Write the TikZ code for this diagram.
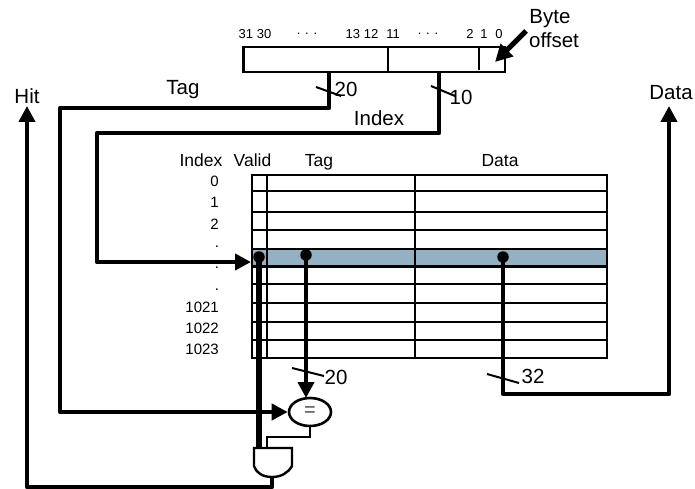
\documentclass[tikz,border=0pt]{standalone}
\usepackage{fontspec}
\setmainfont{Liberation Sans}
\usetikzlibrary{arrows.meta,shapes.geometric}
\definecolor{rowblue}{HTML}{93B1C3}
\tikzset{
  thick line/.style={line width=4.6pt,line join=round},
  thick arrow/.style={thick line,-{Triangle[length=16pt,width=16pt]}},
  frame/.style={line width=2.4pt},
  thin frame/.style={line width=2.2pt},
  tick/.style={line width=2pt},
  big/.style={font=\fontsize{20.5}{22}\selectfont,inner sep=0pt,anchor=base},
  mid/.style={font=\fontsize{17.5}{19}\selectfont,inner sep=0pt,anchor=base},
  num/.style={font=\fontsize{15}{17}\selectfont,inner sep=0pt},
  bit/.style={font=\fontsize{13}{15}\selectfont,inner sep=0pt},
  dot/.style={circle,fill=black,inner sep=0pt,minimum size=11.5pt},
}
\begin{document}
\begin{tikzpicture}[x=1pt,y=-1pt]
\useasboundingbox[fill=white] (0,0) rectangle (695,489);
% address register
\coordinate (regNW) at (243.5,47);
\coordinate (regSE) at (505,72);
\draw[frame] (regNW) rectangle (regSE);
\draw[frame] (388,47) -- (388,72);
\draw[frame] (479,47) -- (479,70);
\foreach \t/\x in {31 30/255,13 12/362,11/393,2/470,1/484,0/499}
  \node[bit] at (\x,34) {\t};
\foreach \x in {307,428}
  \node[bit] at (\x,34) {. . .};
\node[big] at (550,24) {Byte};
\node[big] at (554,48) {offset};
\coordinate (boS) at (526,31);
\coordinate (boE) at (495,62);
\draw[line width=5pt,-{Triangle[length=17pt,width=17pt]}] (boS) -- (boE);
% table
\fill[rowblue] (252,249) rectangle (607,266);
\foreach \y in {191,212,230,249,284,303,322,340}
  \draw[thin frame] (252,\y) -- (607,\y);
\draw[line width=3pt] (252,266.5) -- (607,266.5);
\draw[frame] (252,175) rectangle (607,358);
\draw[thin frame] (267,175) -- (267,358);
\draw[thin frame] (415,175) -- (415,358);
\node[mid] at (201,166) {Index};
\node[mid] at (252.5,166) {Valid};
\node[mid] at (319,166) {Tag};
\node[mid] at (500,166) {Data};
\foreach \t/\y in {0/181,1/202,2/224,1021/307,1022/328,1023/349}
  \node[num,anchor=east] at (219,\y) {\t};
\foreach \y in {247,268,290}
  \node[num] at (217,\y) {.};
% dots
\node[dot] (vdot) at (259,257) {};
\node[dot] (tdot) at (306,255) {};
\node[dot] (ddot) at (503,257) {};
% comparator and gate
\node[ellipse,draw,line width=2.6pt,fill=white,minimum width=42pt,minimum height=28pt,inner sep=0pt] (eq) at (310,412) {};
\node[font=\fontsize{20}{20}\selectfont,text=black!70,inner sep=0pt] at (310,412) {=};
\coordinate (gateV) at (259,448);
\coordinate (gateE) at (267,448);
\coordinate (gateO) at (272,477);
\draw[thick line,line width=5.5pt] (vdot.center) -- (gateV);
\draw[line width=2.4pt] (eq.south) -- (310,437) -- (267,437) -- (gateE);
\draw[line width=2.4pt,fill=white] (254,448) -- (292,448) -- (292,466)
  .. controls (288,473) and (281,477) .. (gateO)
  .. controls (263,477) and (256,473) .. (254,466) -- cycle;
% connectors
\coordinate (tagOut) at (329,71);
\coordinate (idxOut) at (439,73);
\coordinate (rowIn) at (251,262);
\coordinate (hitUp) at (27,106);
\coordinate (dataUp) at (669,106);
\draw[thick arrow] (tagOut) -- (329,108) -- (60,108) -- (60,412) -- (eq.west);
\draw[thick arrow] (idxOut) -- (439,133) -- (97,133) -- (97,262) -- (rowIn);
\draw[thick arrow] (tdot.center) -- (306,398);
\draw[thick arrow] (gateO) -- (272,487) -- (27,487) -- (hitUp);
\draw[thick arrow] (ddot.center) -- (503,394) -- (669,394) -- (dataUp);
% bus ticks and labels
\draw[tick] (316,87) -- (341,96);
\draw[tick] (431,86) -- (455,96);
\draw[tick] (292,368) -- (324,376);
\draw[tick] (487,374) -- (519,383);
\node[big] at (346,97) {20};
\node[big] at (461,105) {10};
\node[big] at (336,384) {20};
\node[big] at (533,383) {32};
\node[big] at (183,95) {Tag};
\node[big] at (379,126) {Index};
\node[big] at (27,104) {Hit};
\node[big] at (671,100) {Data};
\end{tikzpicture}
\end{document}
